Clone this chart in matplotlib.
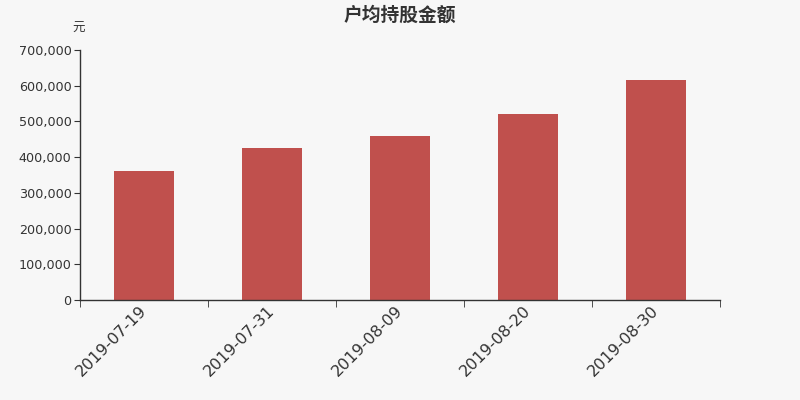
import matplotlib
matplotlib.use("Agg")
import matplotlib.pyplot as plt
import matplotlib.transforms as mtransforms
from matplotlib.ticker import FuncFormatter, FixedLocator
import numpy as np

plt.rcParams['font.family'] = ['Noto Sans CJK SC', 'DejaVu Sans']

categories = ["2019-07-19", "2019-07-31", "2019-08-09", "2019-08-20", "2019-08-30"]
values = [360000, 425000, 459000, 520000, 616000]
title = "户均持股金额"
unit = "元"

bg = "#f7f7f7"
fig = plt.figure(figsize=(8, 4), dpi=100, facecolor=bg)
ax = fig.add_axes([0.1, 0.25, 0.8, 0.625], facecolor=bg)

x = np.arange(len(categories))
ax.bar(x, values, width=0.47, color="#c0504d", zorder=2)

ax.set_xlim(-0.5, len(categories) - 0.5)
ax.set_ylim(0, 700000)
ax.set_yticks(np.arange(0, 700001, 100000))
ax.yaxis.set_major_formatter(FuncFormatter(lambda v, p: f"{int(v):,}"))

ax.set_xticks(x)
ax.set_xticklabels(categories, rotation=45, ha="right", rotation_mode="anchor",
                   fontsize=11.5, color="#333333", family="DejaVu Sans")
ax.tick_params(axis="x", which="major", length=0, pad=2)
offset = mtransforms.ScaledTranslation(-5 / 100, 0, fig.dpi_scale_trans)
for lab in ax.get_xticklabels():
    lab.set_transform(lab.get_transform() + offset)
ax.xaxis.set_minor_locator(FixedLocator(np.arange(-0.5, len(categories), 1.0)))
ax.tick_params(axis="x", which="minor", length=5, color="#333333")
ax.tick_params(axis="y", length=4, pad=2, color="#333333", labelsize=9.2, labelcolor="#333333")
for lab in ax.get_yticklabels():
    lab.set_family("DejaVu Sans")

for s in ["top", "right"]:
    ax.spines[s].set_visible(False)
for s in ["left", "bottom"]:
    ax.spines[s].set_color("#333333")
    ax.spines[s].set_linewidth(1)

fig.text(0.5, 0.962, title, ha="center", va="center", fontsize=13.5,
         fontweight="bold", color="#333333")
fig.text(0.098, 0.93, unit, ha="center", va="center", fontsize=9, color="#333333")

fig.savefig("out.png", dpi=100, facecolor=bg)
